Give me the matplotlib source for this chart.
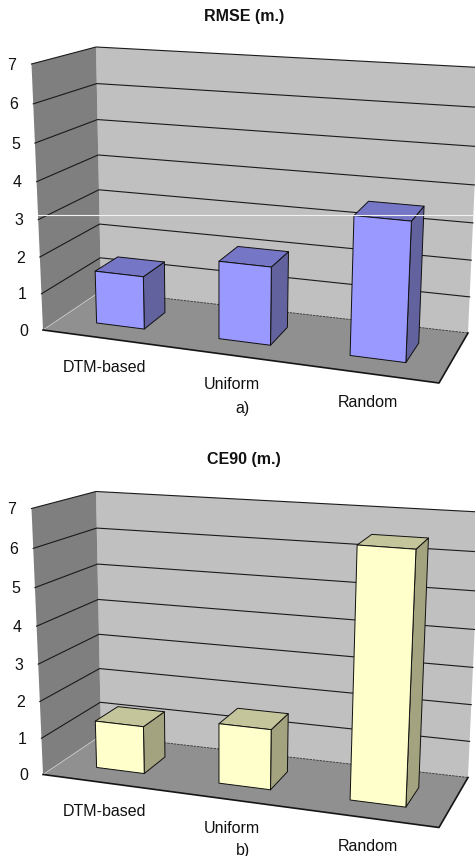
import numpy as np
import matplotlib
matplotlib.use("Agg")
import matplotlib.pyplot as plt
from matplotlib.patches import Polygon

plt.rcParams["font.family"] = ["Liberation Sans", "DejaVu Sans"]

categories = ["DTM-based", "Uniform", "Random"]
rmse = [1.45, 2.1, 3.65]
ce90 = [1.3, 1.62, 6.5]
y_ticks = [0, 1, 2, 3, 4, 5, 6, 7]

# plot box corners in pixels, keys are (x, top, depth)
CORNERS = {
    (0, 0, 0): (43, 330), (1, 0, 0): (439, 383),
    (0, 0, 1): (101, 291), (1, 0, 1): (468, 333),
    (0, 1, 0): (31.5, 64), (1, 1, 0): (453, 95),
    (0, 1, 1): (96, 47), (1, 1, 1): (480, 67.5),
}
BAR_CENTER = [0.155, 0.476, 0.82]
BAR_HALF = [0.0615, 0.0665, 0.072]
BAR_Z = (0.3, 0.7)
YMAX = 7.0
FORESHORTEN = 0.945

WALL_LEFT = "#7f7f7f"
WALL_BACK = "#c0c0c0"
FLOOR = "#909090"
TEXT = "#111111"


def project(x, v, z, dy):
    t = v / YMAX
    f = t * FORESHORTEN / (1 - (1 - FORESHORTEN) * t)
    px, py = 0.0, 0.0
    for (cx, cf, cz), (qx, qy) in CORNERS.items():
        w = (x if cx else 1 - x) * (f if cf else 1 - f) * (z if cz else 1 - z)
        px += w * qx
        py += w * qy
    return px, py + dy


def face(ax, pts, dy, color, lw=0.7, ec="#101010", zorder=1):
    xy = [project(*p, dy) for p in pts]
    ax.add_patch(Polygon(xy, closed=True, fc=color, ec=ec, lw=lw, zorder=zorder, joinstyle="round"))


def draw_panel(ax, dy, title, title_y, values, front, top, side, cap, cap_y):
    face(ax, [(0, 0, 1), (1, 0, 1), (1, YMAX, 1), (0, YMAX, 1)], dy, WALL_BACK, ec="none")
    face(ax, [(0, 0, 0), (0, 0, 1), (0, YMAX, 1), (0, YMAX, 0)], dy, WALL_LEFT, ec="none")
    face(ax, [(0, 0, 0), (1, 0, 0), (1, 0, 1), (0, 0, 1)], dy, FLOOR, ec="none")

    for v in y_ticks:
        pts = [project(0, v, 0, dy), project(0, v, 1, dy), project(1, v, 1, dy)]
        if v == 0:
            ax.plot(*zip(*pts[:2]), color="#d0d0d0", lw=0.5, zorder=1.5)
            ax.plot(*zip(*pts[1:]), color="#303030", lw=0.6, ls=(0, (3, 1)), zorder=1.5)
        else:
            ax.plot(*zip(*pts), color="#1a1a1a", lw=0.8, zorder=1.5)
        lx, ly = project(0, v, 0, dy)
        ax.text(lx - 19.5, ly + 1, str(v), ha="center", va="center", fontsize=11.5, color=TEXT)

    # floor front and right rims
    rim = [project(0, 0, 0, dy), project(1, 0, 0, dy), project(1, 0, 1, dy)]
    ax.plot(*zip(*rim), color="#151515", lw=1.2, zorder=1.6)

    for c, hw, v in zip(BAR_CENTER, BAR_HALF, values):
        x0, x1 = c - hw, c + hw
        z0, z1 = BAR_Z
        face(ax, [(x1, 0, z0), (x1, 0, z1), (x1, v, z1), (x1, v, z0)], dy, side, zorder=3)
        face(ax, [(x0, v, z0), (x1, v, z0), (x1, v, z1), (x0, v, z1)], dy, top, zorder=3)
        face(ax, [(x0, 0, z0), (x1, 0, z0), (x1, v, z0), (x0, v, z0)], dy, front, zorder=3)

    for name, c in zip(categories, BAR_CENTER):
        lx, ly = project(c, 0, 0, dy)
        ax.text(lx, ly + 29, name, ha="center", va="center", fontsize=11.5, color=TEXT)

    ax.text(244, title_y, title, ha="center", va="center", fontsize=11.5, fontweight="bold", color=TEXT)
    ax.text(243, cap_y, cap, ha="center", va="center", fontsize=11.5, color=TEXT)


fig = plt.figure(figsize=(4.75, 8.56), dpi=100, facecolor="white")
ax = fig.add_axes([0, 0, 1, 1])
ax.set_xlim(0, 475)
ax.set_ylim(856, 0)
ax.axis("off")

draw_panel(ax, 0, "RMSE (m.)", 16, rmse, "#9999ff", "#7676c6", "#62629f", "a)", 408)
draw_panel(ax, 444.5, "CE90 (m.)", 459, ce90, "#ffffcc", "#c5c59c", "#a3a37f", "b)", 850)

# light scan line across the top panel
ax.plot([38, 475], [215, 215], color="#f2f2f2", lw=0.8, zorder=5)

fig.savefig("out.png", dpi=100)
